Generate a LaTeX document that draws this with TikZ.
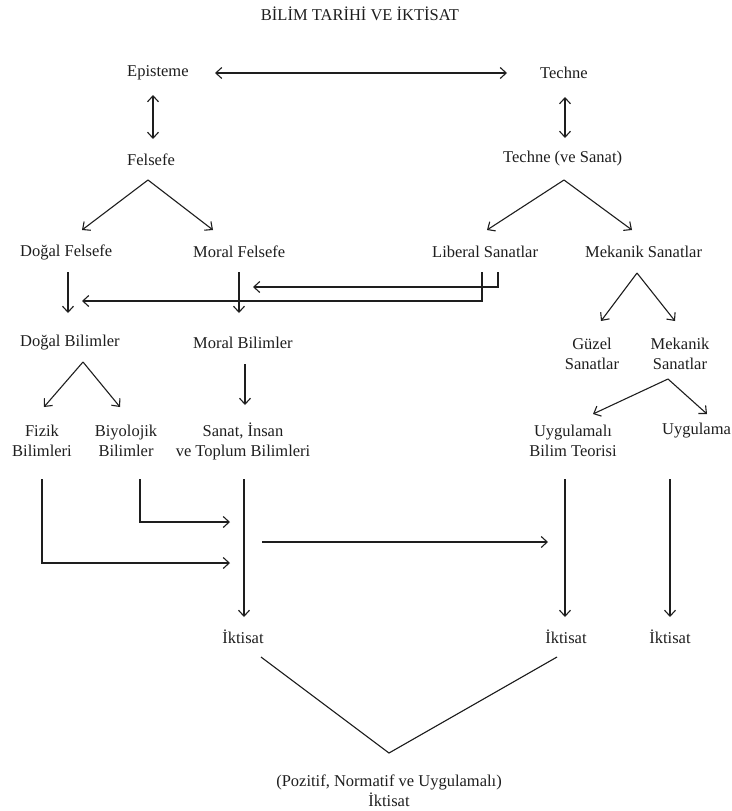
\documentclass[tikz,border=0pt]{standalone}
\usepackage{fontspec}
\setmainfont{Liberation Serif}
\usetikzlibrary{arrows.meta}
\definecolor{ink}{HTML}{1E1E1E}
\begin{document}
\begin{tikzpicture}[x=1pt,y=-1pt,
  lbl/.style={inner sep=0pt, text=ink, font=\fontsize{16.5}{20}\selectfont},
  lbl2/.style={lbl, align=center},
  conn/.style={draw=ink, line width=1.1pt},
  arr/.style={conn, -{Straight Barb[length=6pt,width=11pt]}},
  darr/.style={conn, {Straight Barb[length=6pt,width=11pt]}-{Straight Barb[length=6pt,width=11pt]}}
]
\useasboundingbox[fill=white] (0,0) rectangle (731,811);

% texts
\node[lbl] (title) at (360,14) {BİLİM TARİHİ VE İKTİSAT};
\node[lbl,anchor=west] (epi) at (127,73) {Episteme};
\node[lbl,anchor=west] (techne) at (540,73) {Techne};
\node[lbl,anchor=west] (fel) at (127,160) {Felsefe};
\node[lbl,anchor=west] (tvs) at (503,159) {Techne (ve Sanat)};
\node[lbl,anchor=west] (dogalf) at (20,252) {Doğal Felsefe};
\node[lbl,anchor=west] (moralf) at (193,252) {Moral Felsefe};
\node[lbl,anchor=west] (liberal) at (432,252) {Liberal Sanatlar};
\node[lbl,anchor=west] (mekanik) at (585,252) {Mekanik Sanatlar};
\node[lbl,anchor=west] (dogalb) at (20,343) {Doğal Bilimler};
\node[lbl,anchor=west] (moralb) at (193,343) {Moral Bilimler};
\node[lbl2] (guzel) at (592,354) {Güzel\\Sanatlar};
\node[lbl2] (meksan) at (680,354) {Mekanik\\Sanatlar};
\node[lbl2] (fizik) at (42,441) {Fizik\\Bilimleri};
\node[lbl2] (biyo) at (126,441) {Biyolojik\\Bilimler};
\node[lbl2] (sanat) at (243,441) {Sanat, İnsan\\ve Toplum Bilimleri};
\node[lbl2] (uygteori) at (573,441) {Uygulamalı\\Bilim Teorisi};
\node[lbl,anchor=west] (uyg) at (662,431) {Uygulama};
\node[lbl] (ik1) at (243,637) {İktisat};
\node[lbl] (ik2) at (566,637) {İktisat};
\node[lbl] (ik3) at (670,637) {İktisat};
\node[lbl2] (final) at (389,791) {(Pozitif, Normatif ve Uygulamalı)\\İktisat};

% connector end points
\coordinate (eR) at (215,73);  \coordinate (tL) at (507,73);
\coordinate (eD1) at (153,95); \coordinate (eD2) at (153,139);
\coordinate (tD1) at (565,97); \coordinate (tD2) at (565,138);
\coordinate (fA) at (148,180); \coordinate (fL) at (82,230); \coordinate (fR) at (213,230);
\coordinate (tA) at (564,180); \coordinate (tLL) at (487,230); \coordinate (tRR) at (632,230);
\coordinate (df1) at (68,272); \coordinate (df2) at (68,313);
\coordinate (mf1) at (239,272); \coordinate (mf2) at (239,313);
\coordinate (lb1) at (498,272); \coordinate (lb1c) at (498,287); \coordinate (lb1e) at (253,287);
\coordinate (lb2) at (482,272); \coordinate (lb2c) at (482,301); \coordinate (lb2e) at (82,301);
\coordinate (mA) at (637,273); \coordinate (mL) at (601,321); \coordinate (mR) at (675,321);
\coordinate (dA) at (83,362); \coordinate (dL) at (44,407); \coordinate (dR) at (120,407);
\coordinate (mb1) at (245,364); \coordinate (mb2) at (245,405);
\coordinate (msA) at (668,379); \coordinate (msL) at (593,414); \coordinate (msR) at (707,414);
\coordinate (fz1) at (42,479); \coordinate (fz2) at (42,563); \coordinate (fz3) at (230,563);
\coordinate (by1) at (140,479); \coordinate (by2) at (140,522); \coordinate (by3) at (230,522);
\coordinate (sn1) at (244,479); \coordinate (sn2) at (244,617);
\coordinate (mid1) at (262,542); \coordinate (mid2) at (548,542);
\coordinate (ut1) at (565,479); \coordinate (ut2) at (565,617);
\coordinate (ug1) at (670,479); \coordinate (ug2) at (670,617);
\coordinate (vL) at (261,657); \coordinate (vB) at (389,753); \coordinate (vR) at (557,657);

% connectors
\draw[darr] (eR) -- (tL);
\draw[darr] (eD1) -- (eD2);
\draw[darr] (tD1) -- (tD2);
\draw[arr] (fA) -- (fL);
\draw[arr] (fA) -- (fR);
\draw[arr] (tA) -- (tLL);
\draw[arr] (tA) -- (tRR);
\draw[arr] (df1) -- (df2);
\draw[arr] (mf1) -- (mf2);
\draw[arr] (lb1) -- (lb1c) -- (lb1e);
\draw[arr] (lb2) -- (lb2c) -- (lb2e);
\draw[arr] (mA) -- (mL);
\draw[arr] (mA) -- (mR);
\draw[arr] (dA) -- (dL);
\draw[arr] (dA) -- (dR);
\draw[arr] (mb1) -- (mb2);
\draw[arr] (msA) -- (msL);
\draw[arr] (msA) -- (msR);
\draw[arr] (fz1) -- (fz2) -- (fz3);
\draw[arr] (by1) -- (by2) -- (by3);
\draw[arr] (sn1) -- (sn2);
\draw[arr] (mid1) -- (mid2);
\draw[arr] (ut1) -- (ut2);
\draw[arr] (ug1) -- (ug2);
\draw[conn] (vL) -- (vB) -- (vR);
\end{tikzpicture}
\end{document}
